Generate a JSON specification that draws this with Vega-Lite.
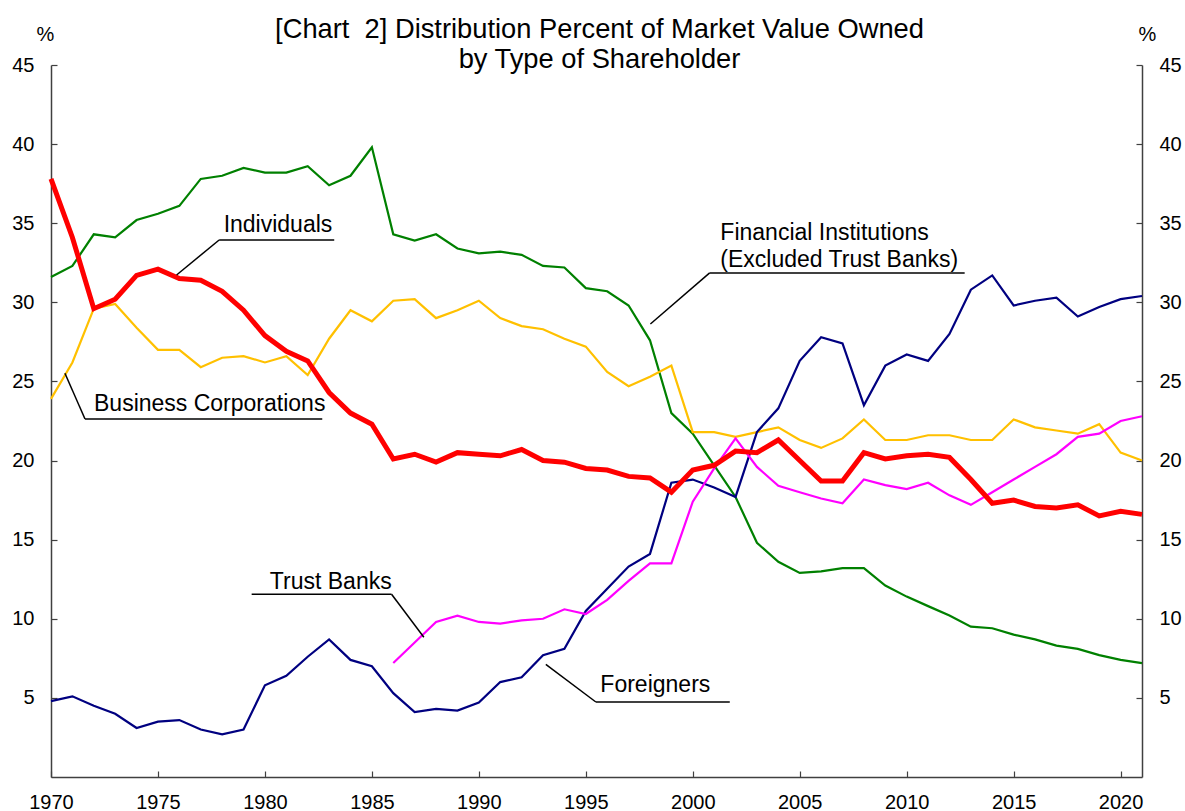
{
  "$schema": "https://vega.github.io/schema/vega-lite/v6.json",
  "width": 1091,
  "height": 712,
  "autosize": "none",
  "padding": {"left": 51, "top": 65, "right": 43, "bottom": 34},
  "background": "white",
  "config": {
    "view": {"stroke": null},
    "font": "Liberation Sans",
    "axis": {
      "labelFont": "Liberation Sans",
      "labelFontSize": 20,
      "labelColor": "#000000",
      "titleFont": "Liberation Sans",
      "titleFontSize": 20,
      "titleFontWeight": "normal",
      "titleColor": "#000000",
      "domainColor": "#404040",
      "domainWidth": 1.5,
      "tickColor": "#404040",
      "tickWidth": 1.2,
      "tickSize": -6,
      "grid": false,
      "labelFlush": false,
      "labelOverlap": false,
      "labelBound": false
    }
  },
  "title": {
    "text": ["[Chart \u00a02] Distribution Percent of Market Value Owned", "by Type of Shareholder"],
    "font": "Liberation Sans",
    "fontSize": 27.3,
    "fontWeight": "normal",
    "color": "#000000",
    "anchor": "middle",
    "frame": "group",
    "lineHeight": 30,
    "dx": 3,
    "offset": -49
  },
  "datasets": {
    "shares": [
      {"year": 1970, "Financial Institutions": 31.6, "Individuals": 37.8, "Business Corporations": 23.9, "Foreigners": 4.8, "Trust Banks": null},
      {"year": 1971, "Financial Institutions": 32.3, "Individuals": 34.1, "Business Corporations": 26.2, "Foreigners": 5.1, "Trust Banks": null},
      {"year": 1972, "Financial Institutions": 34.3, "Individuals": 29.6, "Business Corporations": 29.6, "Foreigners": 4.5, "Trust Banks": null},
      {"year": 1973, "Financial Institutions": 34.1, "Individuals": 30.2, "Business Corporations": 29.9, "Foreigners": 4.0, "Trust Banks": null},
      {"year": 1974, "Financial Institutions": 35.2, "Individuals": 31.7, "Business Corporations": 28.4, "Foreigners": 3.1, "Trust Banks": null},
      {"year": 1975, "Financial Institutions": 35.6, "Individuals": 32.1, "Business Corporations": 27.0, "Foreigners": 3.5, "Trust Banks": null},
      {"year": 1976, "Financial Institutions": 36.1, "Individuals": 31.5, "Business Corporations": 27.0, "Foreigners": 3.6, "Trust Banks": null},
      {"year": 1977, "Financial Institutions": 37.8, "Individuals": 31.4, "Business Corporations": 25.9, "Foreigners": 3.0, "Trust Banks": null},
      {"year": 1978, "Financial Institutions": 38.0, "Individuals": 30.7, "Business Corporations": 26.5, "Foreigners": 2.7, "Trust Banks": null},
      {"year": 1979, "Financial Institutions": 38.5, "Individuals": 29.5, "Business Corporations": 26.6, "Foreigners": 3.0, "Trust Banks": null},
      {"year": 1980, "Financial Institutions": 38.2, "Individuals": 27.9, "Business Corporations": 26.2, "Foreigners": 5.8, "Trust Banks": null},
      {"year": 1981, "Financial Institutions": 38.2, "Individuals": 26.9, "Business Corporations": 26.6, "Foreigners": 6.4, "Trust Banks": null},
      {"year": 1982, "Financial Institutions": 38.6, "Individuals": 26.3, "Business Corporations": 25.4, "Foreigners": 7.6, "Trust Banks": null},
      {"year": 1983, "Financial Institutions": 37.4, "Individuals": 24.3, "Business Corporations": 27.7, "Foreigners": 8.7, "Trust Banks": null},
      {"year": 1984, "Financial Institutions": 38.0, "Individuals": 23.0, "Business Corporations": 29.5, "Foreigners": 7.4, "Trust Banks": null},
      {"year": 1985, "Financial Institutions": 39.8, "Individuals": 22.3, "Business Corporations": 28.8, "Foreigners": 7.0, "Trust Banks": null},
      {"year": 1986, "Financial Institutions": 34.3, "Individuals": 20.1, "Business Corporations": 30.1, "Foreigners": 5.3, "Trust Banks": 7.2},
      {"year": 1987, "Financial Institutions": 33.9, "Individuals": 20.4, "Business Corporations": 30.2, "Foreigners": 4.1, "Trust Banks": 8.5},
      {"year": 1988, "Financial Institutions": 34.3, "Individuals": 19.9, "Business Corporations": 29.0, "Foreigners": 4.3, "Trust Banks": 9.8},
      {"year": 1989, "Financial Institutions": 33.4, "Individuals": 20.5, "Business Corporations": 29.5, "Foreigners": 4.2, "Trust Banks": 10.2},
      {"year": 1990, "Financial Institutions": 33.1, "Individuals": 20.4, "Business Corporations": 30.1, "Foreigners": 4.7, "Trust Banks": 9.8},
      {"year": 1991, "Financial Institutions": 33.2, "Individuals": 20.3, "Business Corporations": 29.0, "Foreigners": 6.0, "Trust Banks": 9.7},
      {"year": 1992, "Financial Institutions": 33.0, "Individuals": 20.7, "Business Corporations": 28.5, "Foreigners": 6.3, "Trust Banks": 9.9},
      {"year": 1993, "Financial Institutions": 32.3, "Individuals": 20.0, "Business Corporations": 28.3, "Foreigners": 7.7, "Trust Banks": 10.0},
      {"year": 1994, "Financial Institutions": 32.2, "Individuals": 19.9, "Business Corporations": 27.7, "Foreigners": 8.1, "Trust Banks": 10.6},
      {"year": 1995, "Financial Institutions": 30.9, "Individuals": 19.5, "Business Corporations": 27.2, "Foreigners": 10.5, "Trust Banks": 10.3},
      {"year": 1996, "Financial Institutions": 30.7, "Individuals": 19.4, "Business Corporations": 25.6, "Foreigners": 11.9, "Trust Banks": 11.2},
      {"year": 1997, "Financial Institutions": 29.8, "Individuals": 19.0, "Business Corporations": 24.7, "Foreigners": 13.3, "Trust Banks": 12.4},
      {"year": 1998, "Financial Institutions": 27.6, "Individuals": 18.9, "Business Corporations": 25.3, "Foreigners": 14.1, "Trust Banks": 13.5},
      {"year": 1999, "Financial Institutions": 23.0, "Individuals": 18.0, "Business Corporations": 26.0, "Foreigners": 18.6, "Trust Banks": 13.5},
      {"year": 2000, "Financial Institutions": 21.7, "Individuals": 19.4, "Business Corporations": 21.8, "Foreigners": 18.8, "Trust Banks": 17.4},
      {"year": 2001, "Financial Institutions": 19.7, "Individuals": 19.7, "Business Corporations": 21.8, "Foreigners": 18.3, "Trust Banks": 19.5},
      {"year": 2002, "Financial Institutions": 17.7, "Individuals": 20.6, "Business Corporations": 21.5, "Foreigners": 17.7, "Trust Banks": 21.4},
      {"year": 2003, "Financial Institutions": 14.8, "Individuals": 20.5, "Business Corporations": 21.8, "Foreigners": 21.8, "Trust Banks": 19.6},
      {"year": 2004, "Financial Institutions": 13.6, "Individuals": 21.3, "Business Corporations": 22.1, "Foreigners": 23.3, "Trust Banks": 18.4},
      {"year": 2005, "Financial Institutions": 12.9, "Individuals": 20.0, "Business Corporations": 21.3, "Foreigners": 26.3, "Trust Banks": 18.0},
      {"year": 2006, "Financial Institutions": 13.0, "Individuals": 18.7, "Business Corporations": 20.8, "Foreigners": 27.8, "Trust Banks": 17.6},
      {"year": 2007, "Financial Institutions": 13.2, "Individuals": 18.7, "Business Corporations": 21.4, "Foreigners": 27.4, "Trust Banks": 17.3},
      {"year": 2008, "Financial Institutions": 13.2, "Individuals": 20.5, "Business Corporations": 22.6, "Foreigners": 23.5, "Trust Banks": 18.8},
      {"year": 2009, "Financial Institutions": 12.1, "Individuals": 20.1, "Business Corporations": 21.3, "Foreigners": 26.0, "Trust Banks": 18.45},
      {"year": 2010, "Financial Institutions": 11.4, "Individuals": 20.3, "Business Corporations": 21.3, "Foreigners": 26.7, "Trust Banks": 18.2},
      {"year": 2011, "Financial Institutions": 10.8, "Individuals": 20.4, "Business Corporations": 21.6, "Foreigners": 26.3, "Trust Banks": 18.6},
      {"year": 2012, "Financial Institutions": 10.2, "Individuals": 20.2, "Business Corporations": 21.6, "Foreigners": 28.0, "Trust Banks": 17.8},
      {"year": 2013, "Financial Institutions": 9.5, "Individuals": 18.8, "Business Corporations": 21.3, "Foreigners": 30.8, "Trust Banks": 17.2},
      {"year": 2014, "Financial Institutions": 9.4, "Individuals": 17.3, "Business Corporations": 21.3, "Foreigners": 31.7, "Trust Banks": 18.0},
      {"year": 2015, "Financial Institutions": 9.0, "Individuals": 17.5, "Business Corporations": 22.6, "Foreigners": 29.8, "Trust Banks": 18.8},
      {"year": 2016, "Financial Institutions": 8.7, "Individuals": 17.1, "Business Corporations": 22.1, "Foreigners": 30.1, "Trust Banks": 19.6},
      {"year": 2017, "Financial Institutions": 8.3, "Individuals": 17.0, "Business Corporations": 21.9, "Foreigners": 30.3, "Trust Banks": 20.4},
      {"year": 2018, "Financial Institutions": 8.1, "Individuals": 17.2, "Business Corporations": 21.7, "Foreigners": 29.1, "Trust Banks": 21.5},
      {"year": 2019, "Financial Institutions": 7.7, "Individuals": 16.5, "Business Corporations": 22.3, "Foreigners": 29.7, "Trust Banks": 21.7},
      {"year": 2020, "Financial Institutions": 7.4, "Individuals": 16.8, "Business Corporations": 20.5, "Foreigners": 30.2, "Trust Banks": 22.5},
      {"year": 2021, "Financial Institutions": 7.2, "Individuals": 16.6, "Business Corporations": 20.0, "Foreigners": 30.4, "Trust Banks": 22.8}
    ],
    "labels": [
      {"text": "Individuals", "year": 1978.07, "value": 34.43},
      {"text": "Business Corporations", "year": 1972.01, "value": 23.15},
      {"text": "Financial Institutions\n(Excluded Trust Banks)", "year": 2001.29, "value": 33.94},
      {"text": "Trust Banks", "year": 1980.23, "value": 11.88},
      {"text": "Foreigners", "year": 1995.68, "value": 5.39}
    ],
    "leaders": [
      {"year": 1977.86, "value": 33.94, "year2": 1983.24, "value2": 33.94},
      {"year": 1977.86, "value": 33.94, "year2": 1975.87, "value2": 31.73},
      {"year": 1971.59, "value": 22.63, "year2": 1982.68, "value2": 22.63},
      {"year": 1971.59, "value": 22.63, "year2": 1970.65, "value2": 25.52},
      {"year": 2000.79, "value": 31.86, "year2": 2012.71, "value2": 31.86},
      {"year": 2000.79, "value": 31.86, "year2": 1998.02, "value2": 28.63},
      {"year": 1979.38, "value": 11.55, "year2": 1985.92, "value2": 11.55},
      {"year": 1985.92, "value": 11.55, "year2": 1987.43, "value2": 8.83},
      {"year": 1995.47, "value": 4.74, "year2": 2001.73, "value2": 4.74},
      {"year": 1995.47, "value": 4.74, "year2": 1993.13, "value2": 7.12}
    ]
  },
  "resolve": {"axis": {"y": "independent"}},
  "layer": [
    {
      "data": {"name": "shares"},
      "transform": [
        {"fold": ["Financial Institutions", "Business Corporations", "Foreigners", "Trust Banks"], "as": ["series", "value"]},
        {"filter": "datum.value != null"}
      ],
      "mark": {"type": "line", "strokeWidth": 2.2, "strokeJoin": "miter"},
      "encoding": {
        "x": {
          "field": "year", "type": "quantitative",
          "scale": {"domain": [1970, 2021], "nice": false, "zero": false},
          "axis": {"title": null, "values": [1970, 1975, 1980, 1985, 1990, 1995, 2000, 2005, 2010, 2015, 2020], "format": "d", "labelPadding": 21}
        },
        "y": {
          "field": "value", "type": "quantitative",
          "scale": {"domain": [0, 45], "nice": false},
          "axis": {"orient": "left", "values": [5, 10, 15, 20, 25, 30, 35, 40, 45], "title": "%", "titleAngle": 0, "titleAlign": "center", "titleBaseline": "middle", "titleX": -6, "titleY": -31, "labelPadding": 23}
        },
        "color": {
          "field": "series", "type": "nominal",
          "scale": {
            "domain": ["Financial Institutions", "Individuals", "Business Corporations", "Foreigners", "Trust Banks"],
            "range": ["#008000", "#FF0000", "#FFC000", "#000080", "#FF00FF"]
          },
          "legend": null
        }
      }
    },
    {
      "data": {"name": "shares"},
      "transform": [
        {"fold": ["Individuals"], "as": ["series", "value"]}
      ],
      "mark": {"type": "line", "strokeWidth": 5, "strokeJoin": "miter"},
      "encoding": {
        "x": {"field": "year", "type": "quantitative"},
        "y": {
          "field": "value", "type": "quantitative",
          "axis": {"orient": "right", "values": [5, 10, 15, 20, 25, 30, 35, 40, 45], "title": "%", "titleAngle": 0, "titleAlign": "center", "titleBaseline": "middle", "titleX": 5, "titleY": -31, "labelPadding": 23}
        },
        "color": {"field": "series", "type": "nominal", "legend": null}
      }
    },
    {
      "data": {"name": "leaders"},
      "mark": {"type": "rule", "color": "#000000", "strokeWidth": 1.5},
      "encoding": {
        "x": {"field": "year", "type": "quantitative"},
        "y": {"field": "value", "type": "quantitative", "axis": null},
        "x2": {"field": "year2"},
        "y2": {"field": "value2"}
      }
    },
    {
      "data": {"name": "labels"},
      "mark": {"type": "text", "align": "left", "baseline": "alphabetic", "fontSize": 23, "font": "Liberation Sans", "color": "#000000", "lineBreak": "\n", "lineHeight": 26.7},
      "encoding": {
        "x": {"field": "year", "type": "quantitative"},
        "y": {"field": "value", "type": "quantitative", "axis": null},
        "text": {"field": "text"}
      }
    }
  ]
}
